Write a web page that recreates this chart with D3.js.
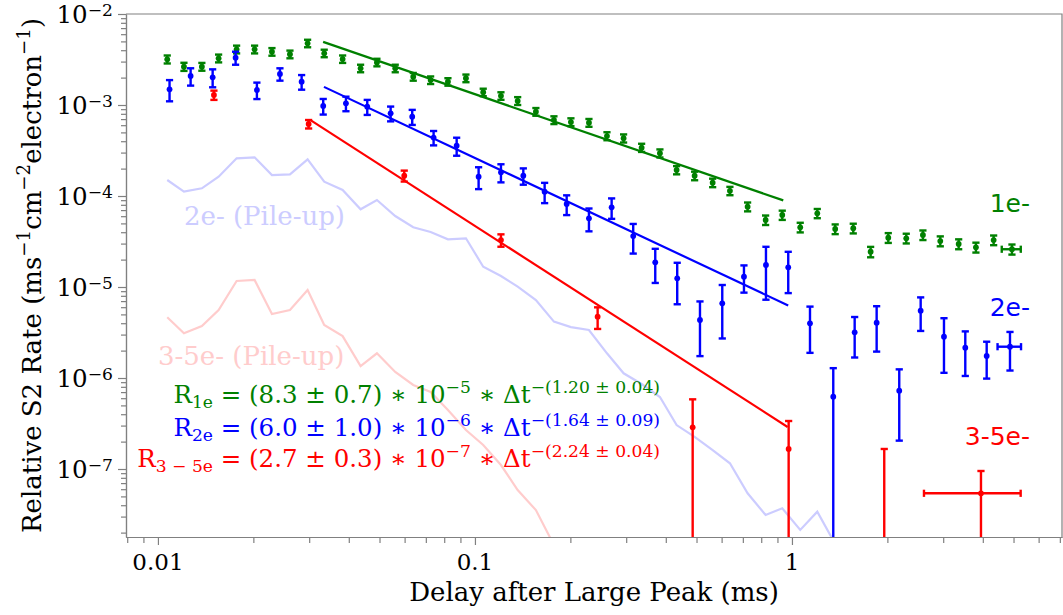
<!DOCTYPE html>
<meta charset="utf-8">
<title>Relative S2 rate vs delay</title>
<style>
html, body { margin: 0; padding: 0; background: #fff; }
svg { display: block; }
text { font-family: "DejaVu Serif", serif; white-space: pre; }
.axis path, .axis line { stroke: #808080; stroke-width: 1.2; }
.axis text { display: none; }
</style>
<body>
<svg width="1063" height="615"></svg>
<script src="https://cdn.jsdelivr.net/npm/d3@7"></script>
<script>

// 1e- (green)
var gT = [0.0107, 0.01208, 0.01376, 0.01554, 0.01771, 0.02018, 0.02289, 0.02609, 0.02966, 0.03346,
  0.03825, 0.04358, 0.04907, 0.05605, 0.06388, 0.07248, 0.08219, 0.09367, 0.1062, 0.1208,
  0.1364, 0.1557, 0.1775, 0.2008, 0.2289, 0.2609, 0.2944, 0.3356, 0.3833, 0.4327,
  0.4932, 0.5622, 0.6373, 0.7247, 0.826, 0.932, 1.062, 1.202, 1.369, 1.561,
  1.771, 2.013, 2.294, 2.589, 2.937, 3.357, 3.805, 4.328, 4.943];
var gRate = [3.18e-3, 2.64e-3, 2.64e-3, 3.26e-3, 4.09e-3, 4.09e-3, 3.85e-3, 3.61e-3, 4.76e-3, 3.70e-3,
  3.20e-3, 2.53e-3, 2.94e-3, 2.53e-3, 2.05e-3, 1.88e-3, 1.80e-3, 1.97e-3, 1.38e-3, 1.26e-3,
  1.11e-3, 8.44e-4, 6.84e-4, 6.50e-4, 6.39e-4, 4.56e-4, 4.31e-4, 3.40e-4, 2.95e-4, 1.93e-4,
  1.67e-4, 1.40e-4, 1.14e-4, 7.63e-5, 5.45e-5, 6.18e-5, 4.53e-5, 6.45e-5, 4.34e-5, 4.42e-5,
  2.44e-5, 3.48e-5, 3.43e-5, 3.73e-5, 3.20e-5, 2.97e-5, 2.73e-5, 3.28e-5, 2.60e-5];
var gErr = [3.2e-4, 2.7e-4, 2.6e-4, 3.2e-4, 4.0e-4, 4.0e-4, 3.7e-4, 3.5e-4, 4.5e-4, 3.5e-4,
  3.0e-4, 2.4e-4, 2.8e-4, 2.4e-4, 2.0e-4, 1.8e-4, 1.7e-4, 1.9e-4, 1.3e-4, 1.2e-4,
  1.1e-4, 8.2e-5, 6.7e-5, 6.4e-5, 6.3e-5, 4.6e-5, 4.4e-5, 3.5e-5, 3.0e-5, 2.0e-5,
  1.8e-5, 1.5e-5, 1.2e-5, 8.5e-6, 6.5e-6, 7.2e-6, 5.5e-6, 7.5e-6, 5.3e-6, 5.4e-6,
  3.2e-6, 4.3e-6, 4.2e-6, 4.5e-6, 4.0e-6, 3.7e-6, 3.4e-6, 4.0e-6, 3.3e-6];
var gXSpan = [4.59, 5.27];

// 2e- (blue)
var bT = [0.01088, 0.01268, 0.01488, 0.01758, 0.02052, 0.02426, 0.0284, 0.03322, 0.03918, 0.04574,
  0.05421, 0.06341, 0.07406, 0.08757, 0.1027, 0.1208, 0.1421, 0.1659, 0.1947, 0.2289,
  0.2699, 0.3157, 0.3705, 0.4346, 0.5127, 0.6028, 0.7057, 0.828, 0.9734, 1.14,
  1.35, 1.577, 1.85, 2.18, 2.547, 3.017, 3.522, 4.114, 4.873];
var bRate = [1.488e-3, 2.083e-3, 2.015e-3, 3.31e-3, 1.462e-3, 2.191e-3, 1.803e-3, 9.75e-4, 1.044e-3, 9.58e-4,
  8.11e-4, 7.44e-4, 4.39e-4, 3.57e-4, 1.63e-4, 1.822e-4, 1.671e-4, 1.115e-4, 8.17e-5, 5.69e-5,
  7.51e-5, 3.63e-5, 1.868e-5, 1.246e-5, 4.34e-6, 6.62e-6, 1.297e-5, 1.745e-5, 1.647e-5, 3.99e-6,
  6.23e-7, 3.18e-6, 4.05e-6, 7.25e-7, 5.49e-6, 2.84e-6, 2.153e-6, 1.745e-6, 2.208e-6];
var bErr = [3.9e-4, 4.5e-4, 4.5e-4, 5.4e-4, 3.0e-4, 3.4e-4, 3.3e-4, 1.9e-4, 1.9e-4, 1.8e-4,
  1.5e-4, 1.4e-4, 7.9e-5, 8.0e-5, 4.4e-5, 4.1e-5, 3.4e-5, 2.8e-5, 2.0e-5, 1.6e-5,
  1.9e-5, 1.3e-5, 7.6e-6, 6.0e-6, 2.6e-6, 3.9e-6, 4.3e-6, 1.02e-5, 7.9e-6, 2.1e-6,
  6.6e-7, 1.5e-6, 2.1e-6, 5.2e-7, 2.2e-6, 1.7e-6, 1.1e-6, 7.6e-7, 1.0e-6];
var bXSpan = [4.452, 5.28];

// 3-5e- (red)
var rT = [0.01502, 0.02988, 0.05984, 0.1208, 0.2438, 0.4862, 0.9763, 1.955, 3.947];
var rRate = [1.288e-3, 6.18e-4, 1.671e-4, 3.28e-5, 4.72e-6, 2.87e-7, 1.659e-7, 1.0e-8, 5.41e-8];
var rErr = [1.5e-4, 6.6e-5, 2.3e-5, 5.1e-6, 1.26e-6, 2.96e-7, 1.71e-7, 1.56e-7, 4.1e-8];
var rXSpan = [2.609, 5.266];

// pile-up estimates, on the 1e- bins
var pileBlue = [1.499e-4, 1.115e-4, 1.215e-4, 1.63e-4, 2.596e-4, 2.662e-4, 1.701e-4, 1.731e-4, 2.531e-4, 1.436e-4,
  1.164e-4, 7.14e-5, 9.04e-5, 6.03e-5, 4.53e-5, 4.02e-5, 3.34e-5, 3.43e-5, 1.671e-5, 1.321e-5,
  1.008e-5, 7.2e-6, 4.16e-6, 3.63e-6, 3.37e-6, 1.868e-6, 1.126e-6, 8.59e-7, 6.18e-7, 3.04e-7,
  2.26e-7, 1.617e-7, 1.155e-7, 5.41e-8, 3.12e-8, 3.7e-8, 2.14e-8, 3.4e-8, 1.5e-8];
var pileRed = [4.65e-6, 3.10e-6, 3.73e-6, 5.59e-6, 1.164e-5, 1.194e-5, 5.05e-6, 5.59e-6, 9.27e-6, 3.82e-6,
  2.89e-6, 1.354e-6, 1.868e-6, 1.164e-6, 8.38e-7, 7.02e-7, 4.45e-7, 2.68e-7, 1.835e-7, 1.106e-7,
  5.88e-8, 3.54e-8, 1.46e-8];

// power-law fits R = A * t^-k
var fitAmp = [8.3e-5, 6.0e-6, 2.7e-7];
var fitExp = [1.20, 1.64, 2.24];
var fitFrom = [0.0332, 0.0334, 0.0302];
var fitTo = [0.939, 0.973, 0.969];

var xMajor = [0.01, 0.1, 1];
var yMajor = [1e-2, 1e-3, 1e-4, 1e-5, 1e-6, 1e-7];

var svg = d3.select("svg");
var L = 126, R = 1062, T = 14, B = 537;

var x = d3.scaleLog().domain([0.00793, 7.11]).range([L, R]);
var y = d3.scaleLog().domain([1.79e-8, 1e-2]).range([B, T]);

svg.append("clipPath").attr("id", "plot")
  .append("rect").attr("x", L).attr("y", T).attr("width", R - L).attr("height", B - T);

// minor ticks
function minors(scale) {
  var d = scale.domain(), out = [];
  for (var e = Math.floor(Math.log10(d[0])); e <= Math.ceil(Math.log10(d[1])); e++)
    for (var m = 2; m <= 9; m++) {
      var v = m * Math.pow(10, e);
      if (v >= d[0] && v <= d[1]) out.push(v);
    }
  return out;
}

svg.append("g").attr("class", "axis").attr("transform", "translate(0," + B + ")")
  .call(d3.axisBottom(x).tickValues(minors(x)).tickSize(6).tickSizeOuter(0));
svg.append("g").attr("class", "axis").attr("transform", "translate(0," + B + ")")
  .call(d3.axisBottom(x).tickValues(xMajor).tickSize(8).tickSizeOuter(0));
svg.append("g").attr("class", "axis").attr("transform", "translate(" + L + ",0)")
  .call(d3.axisLeft(y).tickValues(minors(y)).tickSize(5).tickSizeOuter(0));
svg.append("g").attr("class", "axis").attr("transform", "translate(" + L + ",0)")
  .call(d3.axisLeft(y).tickValues(yMajor).tickSize(8).tickSizeOuter(0));

svg.append("path")
  .attr("d", "M" + L + "," + T + "H" + R + "V" + B)
  .attr("fill", "none").attr("stroke", "#808080").attr("stroke-width", 1.2);

// tick labels
xMajor.forEach(function(v) {
  svg.append("text").attr("x", x(v)).attr("y", 570)
    .attr("text-anchor", "middle").style("font-size", "23px").text(String(v));
});

function rich(sel, parts, size, raise) {
  var base = 0;
  raise = raise || 0.42;
  parts.forEach(function(p) {
    var shift = p[1] === "sup" ? -raise * size : p[1] === "sub" ? 0.2 * size : 0;
    sel.append("tspan").attr("dy", shift - base)
      .style("font-size", (p[1] === "n" ? size : size * 0.7) + "px").text(p[0]);
    base = shift;
  });
}

yMajor.forEach(function(v) {
  var t = svg.append("text").attr("x", 113).attr("y", y(v) + 9).attr("text-anchor", "end");
  rich(t, [["10", "n"], ["−" + (-Math.round(Math.log10(v))), "sup"]], 24.5, 0.3);
});

// axis titles
svg.append("text").attr("x", 594).attr("y", 601).attr("text-anchor", "middle")
  .style("font-size", "26px").text("Delay after Large Peak (ms)");

var yl = svg.append("text").attr("transform", "translate(41," + ((T + B) / 2) + ") rotate(-90)")
  .attr("text-anchor", "middle");
rich(yl, [["Relative S2 Rate (ms", "n"], ["−1", "sup"], ["cm", "n"], ["−2", "sup"],
  ["electron", "n"], ["−1", "sup"], [")", "n"]], 26);

// data layer
var plot = svg.append("g").attr("clip-path", "url(#plot)");
var line = d3.line().x(function(d) { return x(d[0]); }).y(function(d) { return y(d[1]); });

plot.append("path").datum(pileBlue.map(function(v, i) { return [gT[i], v]; }))
  .attr("d", line).attr("fill", "none").attr("stroke", "rgb(204,204,255)").attr("stroke-width", 2.2);
plot.append("path").datum(pileRed.map(function(v, i) { return [gT[i], v]; }))
  .attr("d", line).attr("fill", "none").attr("stroke", "rgb(255,204,204)").attr("stroke-width", 2.2);

var colors = ["green", "blue", "red"];
fitAmp.forEach(function(a, i) {
  var pts = [fitFrom[i], fitTo[i]].map(function(t) { return [t, a * Math.pow(t, -fitExp[i])]; });
  plot.append("path").datum(pts).attr("d", line)
    .attr("fill", "none").attr("stroke", colors[i]).attr("stroke-width", 2.2);
});

var series = [
  {t: gT, rate: gRate, err: gErr, span: gXSpan, color: "green"},
  {t: bT, rate: bRate, err: bErr, span: bXSpan, color: "blue"},
  {t: rT, rate: rRate, err: rErr, span: rXSpan, color: "red"}
];

var cap = 3.6;
series.forEach(function(s) {
  var g = plot.append("g").attr("stroke", s.color).attr("fill", s.color).attr("stroke-width", 2.4);
  s.t.forEach(function(t, i) {
    var px = x(t), hi = y(s.rate[i] + s.err[i]);
    var lo = s.rate[i] - s.err[i];
    var plo = lo > 0 ? y(lo) : B + 20;
    g.append("line").attr("x1", px).attr("x2", px).attr("y1", hi).attr("y2", plo);
    g.append("line").attr("x1", px - cap).attr("x2", px + cap).attr("y1", hi).attr("y2", hi);
    if (lo > 0) g.append("line").attr("x1", px - cap).attr("x2", px + cap).attr("y1", plo).attr("y2", plo);
    if (i === s.t.length - 1) {
      var py = y(s.rate[i]), x0 = x(s.span[0]), x1 = x(s.span[1]);
      g.append("line").attr("x1", x0).attr("x2", x1).attr("y1", py).attr("y2", py);
      g.append("line").attr("x1", x0).attr("x2", x0).attr("y1", py - cap).attr("y2", py + cap);
      g.append("line").attr("x1", x1).attr("x2", x1).attr("y1", py - cap).attr("y2", py + cap);
    }
    g.append("circle").attr("cx", px).attr("cy", y(s.rate[i])).attr("r", 2.9).attr("stroke", "none");
  });
});

// labels
svg.append("text").attr("x", 1030).attr("y", 212).attr("text-anchor", "end")
  .style("font-family", "DejaVu Sans").style("font-size", "25px").attr("fill", "green").text("1e-");
svg.append("text").attr("x", 1030).attr("y", 316).attr("text-anchor", "end")
  .style("font-family", "DejaVu Sans").style("font-size", "25px").attr("fill", "blue").text("2e-");
svg.append("text").attr("x", 1030).attr("y", 445).attr("text-anchor", "end")
  .style("font-family", "DejaVu Sans").style("font-size", "25px").attr("fill", "red").text("3-5e-");

svg.append("text").attr("x", 184).attr("y", 225).style("font-size", "26px")
  .attr("fill", "rgb(204,204,255)").text("2e- (Pile-up)");
svg.append("text").attr("x", 158).attr("y", 365).style("font-size", "26px")
  .attr("fill", "rgb(255,204,204)").text("3-5e- (Pile-up)");

var formulas = [
  [["R", "n"], ["1e", "sub"], [" = (8.3 ± 0.7) ∗ 10", "n"], ["−5", "sup"], [" ∗ Δt", "n"], ["−(1.20 ± 0.04)", "sup"]],
  [["R", "n"], ["2e", "sub"], [" = (6.0 ± 1.0) ∗ 10", "n"], ["−6", "sup"], [" ∗ Δt", "n"], ["−(1.64 ± 0.09)", "sup"]],
  [["R", "n"], ["3 − 5e", "sub"], [" = (2.7 ± 0.3) ∗ 10", "n"], ["−7", "sup"], [" ∗ Δt", "n"], ["−(2.24 ± 0.04)", "sup"]]
];
var fBase = [403, 436, 467];
formulas.forEach(function(f, i) {
  var t = svg.append("text").attr("x", 660).attr("y", fBase[i]).attr("text-anchor", "end").attr("fill", colors[i]);
  rich(t, f, 24.5);
});

</script>
</body>
